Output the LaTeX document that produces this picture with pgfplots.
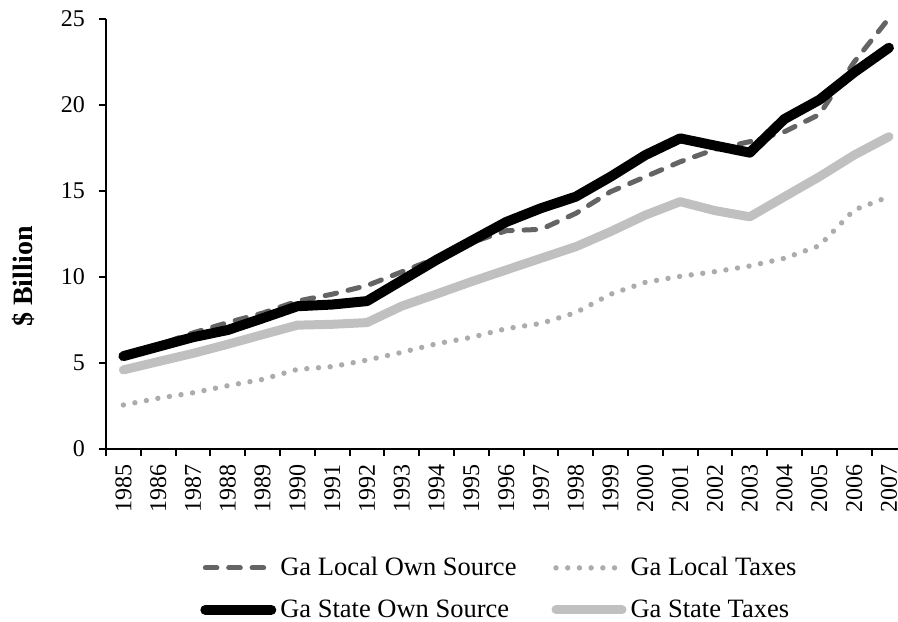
\documentclass[border=0pt]{standalone}
\usepackage{pgfplots}
\pgfplotsset{compat=1.18}
\usepackage{fontspec}
\setmainfont{Liberation Serif}
\definecolor{dashgray}{HTML}{646464}
\definecolor{dotgray}{HTML}{ACACAC}
\definecolor{stategray}{HTML}{C0C0C0}
\begin{document}
\begin{tikzpicture}
\begin{axis}[
  width=396pt, height=215pt, scale only axis,
  xmin=-0.5, xmax=22.26, ymin=0, ymax=25,
  axis x line*=bottom, axis y line*=left,
  axis line style={line width=1pt, -},
  ytick={0,5,...,25},
  xtick={0,...,22},
  xticklabels={1985,1986,1987,1988,1989,1990,1991,1992,1993,1994,1995,1996,1997,1998,1999,2000,2001,2002,2003,2004,2005,2006,2007},
  minor xtick={-0.5,0.5,...,21.5},
  major x tick style={draw=none},
  minor x tick style={draw=black, line width=1pt},
  ytick style={draw=black, line width=1pt},
  tick align=outside,
  major tick length=3.5pt, minor tick length=3.5pt,
  /pgf/number format/assume math mode=true,
  yticklabel style={font=\fontsize{12}{14}\selectfont, xshift=-3.5pt},
  xticklabel style={rotate=90, anchor=east, inner xsep=4pt, inner ysep=0.5pt, font=\fontsize{12}{14}\selectfont},
  ylabel={\textbf{\$ Billion}},
  every axis y label/.style={at={(axis description cs:-0.1042,0.401)}, rotate=90, anchor=center, font=\fontsize{14}{16}\selectfont},
  legend columns=2,
  legend cell align=left,
  legend style={draw=none, fill=none, at={(axis description cs:0.111,-0.232)}, anchor=north west,
    font=\fontsize{13.25}{15}\selectfont, row sep=6.5pt,
    /tikz/every even column/.append style={column sep=15.5pt}},
  legend image code/.code={\draw[#1] (0pt,0pt) -- (33pt,0pt);},
  line join=round,
]
\addplot[dashgray, line width=2.5pt, line cap=round, dash pattern=on 5.8pt off 5.9pt] coordinates {
(0,5.45) (1,6.05) (2,6.75) (3,7.35) (4,7.9) (5,8.6) (6,9.0) (7,9.5) (8,10.3) (9,11.1) (10,12.0) (11,12.69) (12,12.77) (13,13.7) (14,14.96) (15,15.83) (16,16.7) (17,17.42) (18,17.87) (19,18.45) (20,19.45) (21,22.5) (22,25.04)};
\addlegendentry{Ga Local Own Source}
\addplot[dotgray, line width=2.7pt, line cap=round, dash pattern=on 0pt off 5.85pt] coordinates {
(0,2.56) (1,2.95) (2,3.27) (3,3.68) (4,4.05) (5,4.63) (6,4.79) (7,5.17) (8,5.62) (9,6.12) (10,6.49) (11,7.0) (12,7.3) (13,7.93) (14,9.0) (15,9.69) (16,10.04) (17,10.31) (18,10.64) (19,11.09) (20,11.82) (21,13.9) (22,14.67)};
\addlegendentry{Ga Local Taxes}
\addplot[black, line width=5pt, line cap=round] coordinates {
(0,5.4) (1,5.95) (2,6.5) (3,6.92) (4,7.6) (5,8.3) (6,8.4) (7,8.6) (8,9.8) (9,11.0) (10,12.1) (11,13.2) (12,14.0) (13,14.67) (14,15.83) (15,17.09) (16,18.06) (17,17.64) (18,17.23) (19,19.19) (20,20.3) (21,21.9) (22,23.33)};
\addlegendentry{Ga State Own Source}
\addplot[stategray, line width=4.5pt, line cap=round] coordinates {
(0,4.6) (1,5.08) (2,5.56) (3,6.09) (4,6.65) (5,7.2) (6,7.25) (7,7.35) (8,8.31) (9,9.01) (10,9.73) (11,10.41) (12,11.09) (13,11.76) (14,12.64) (15,13.6) (16,14.38) (17,13.86) (18,13.5) (19,14.67) (20,15.83) (21,17.09) (22,18.16)};
\addlegendentry{Ga State Taxes}
\coordinate (bl) at (rel axis cs:0,0);
\end{axis}
\pgfresetboundingbox
\path[use as bounding box] ([xshift=-53pt,yshift=-86pt]bl) rectangle ([xshift=396pt,yshift=224.5pt]bl);
\end{tikzpicture}
\end{document}
